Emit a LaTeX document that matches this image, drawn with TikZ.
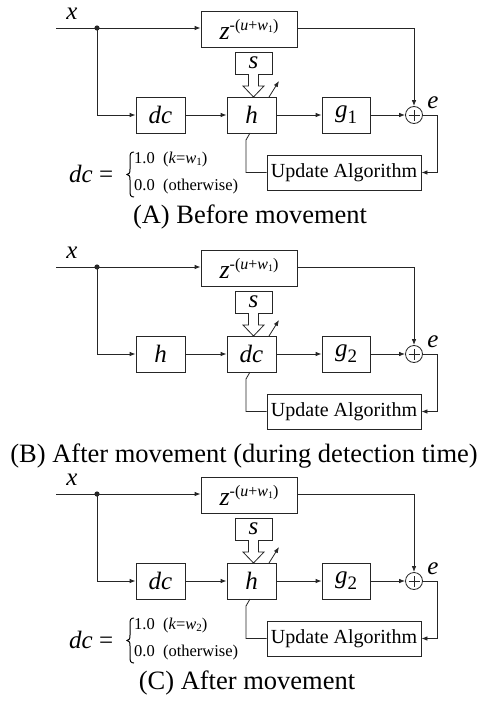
\documentclass[tikz,border=0pt]{standalone}
\usepackage{fontspec}
\setmainfont{Liberation Serif}
\usetikzlibrary{arrows.meta}
\newcommand{\fsz}[1]{\fontsize{#1}{#1}\selectfont}
\newcommand{\zlab}{{\fsz{26}\itshape z}\raisebox{9pt}{\fsz{16}-(\textit{u}+\textit{w}\raisebox{-2pt}{\fsz{10}1})}}
\newcommand{\glab}[1]{{\itshape g}\raisebox{-6pt}{\fsz{19}#1}}
\newcommand{\drawpanel}[5]{%
\begin{scope}[yshift=-#2pt]
\node[lbl] (#1x) at (72,14) {\itshape x};
\coordinate (#1in) at (56,28);
\coordinate (#1j) at (97,28);
\node[blk, minimum width=96pt, minimum height=36pt] (#1z) at (249,29) {\zlab};
\node[blk, minimum width=37pt, minimum height=22pt] (#1s) at (253.5,63) {\itshape s};
\node[blk, minimum width=49pt, minimum height=36pt] (#1l) at (160.5,115) {#3};
\node[blk, minimum width=49pt, minimum height=36pt] (#1m) at (251.5,115) {#4};
\node[blk, minimum width=48pt, minimum height=36pt] (#1g) at (346,115) {\glab{#5}};
\node[sumc] (#1sum) at (414,115) {};
\draw[wire] ([xshift=-5.5pt]#1sum.center) -- ([xshift=5.5pt]#1sum.center);
\draw[wire] ([yshift=-5.5pt]#1sum.center) -- ([yshift=5.5pt]#1sum.center);
\node[blk, minimum width=154pt, minimum height=35pt, font=\fsz{20}] (#1u) at (344,172.5) {Update Algorithm};
\node[lbl] (#1e) at (433,103) {\itshape e};
\draw[wire] (#1in) -- (#1j);
\draw[wire,arr] (#1j) -- (#1z.west |- #1j);
\fill[black!85] (#1j) circle (2.6pt);
\draw[wire,arr] (#1j) |- (#1l.west);
\draw[wire,arr] (#1l) -- (#1m);
\draw[wire,arr] (#1m) -- (#1g);
\draw[wire,arr] (#1g) -- (#1sum);
\draw[wire,arr] (#1z.east |- #1j) -| (#1sum.north);
\coordinate (#1o) at (437,115);
\draw[wire,arr] (#1sum.east) -- (#1o) |- (#1u.east);
\coordinate (#1f1) at (246,140);
\coordinate (#1f2) at (250,133);
\draw[wire] (#1u.west) -| (#1f1) -- (#1f2);
\coordinate (#1a1) at (269,97);
\coordinate (#1a2) at (279,81);
\draw[wire,arr] (#1a1) -- (#1a2);
\draw[wire,fill=white] (248.5,74) -- (248.5,86) -- (243,86) -- (253.5,97) -- (264,86) -- (258.5,86) -- (258.5,74);
\end{scope}}
\newcommand{\eqblock}[3]{%
\begin{scope}[yshift=-#1pt]
\node[anchor=west, inner sep=0pt, font=\fsz{25}] (#3lhs) at (69,174) {\textit{dc} =};
\draw[black, line width=1pt] (134,152) .. controls (130.5,152) and (130,154) .. (130,158) -- (130,169) .. controls (130,172.5) and (129.5,174.5) .. (127,174.5) .. controls (129.5,174.5) and (130,176.5) .. (130,180) -- (130,191) .. controls (130,195) and (130.5,197) .. (134,197);
\node[anchor=west, inner sep=0pt, font=\fsz{16.5}] (#3r1) at (134,160) {1.0\ \ (\textit{k}=\textit{w}\raisebox{-2pt}{\fsz{11}#2})};
\node[anchor=west, inner sep=0pt, font=\fsz{16.5}] (#3r2) at (134,187) {0.0\ \ (otherwise)};
\end{scope}}
\begin{document}
\begin{tikzpicture}[x=1pt,y=-1pt,
  blk/.style={draw=black!85, line width=0.8pt, inner sep=0pt, font=\fsz{25}},
  lbl/.style={inner sep=0pt, font=\fsz{25}},
  wire/.style={draw=black!85, line width=0.8pt},
  arr/.style={-{Latex[length=6pt,width=4.5pt]}},
  sumc/.style={draw=black!85, line width=0.8pt, circle, minimum size=17pt, inner sep=0pt},
  captxt/.style={inner sep=0pt, font=\fsz{26.5}}]
\path[fill=white, use as bounding box] (0,0) rectangle (489,701);
\drawpanel{a}{0}{\itshape dc}{\itshape h}{1}
\eqblock{0}{1}{aeq}
\node[captxt] (capa) at (250,217) {(A) Before movement};
\drawpanel{b}{239}{\itshape h}{\itshape dc}{2}
\node[captxt] (capb) at (244,456) {(B) After movement (during detection time)};
\drawpanel{c}{466}{\itshape dc}{\itshape h}{2}
\eqblock{466}{2}{ceq}
\node[captxt] (capc) at (247,683) {(C) After movement};
\end{tikzpicture}
\end{document}
